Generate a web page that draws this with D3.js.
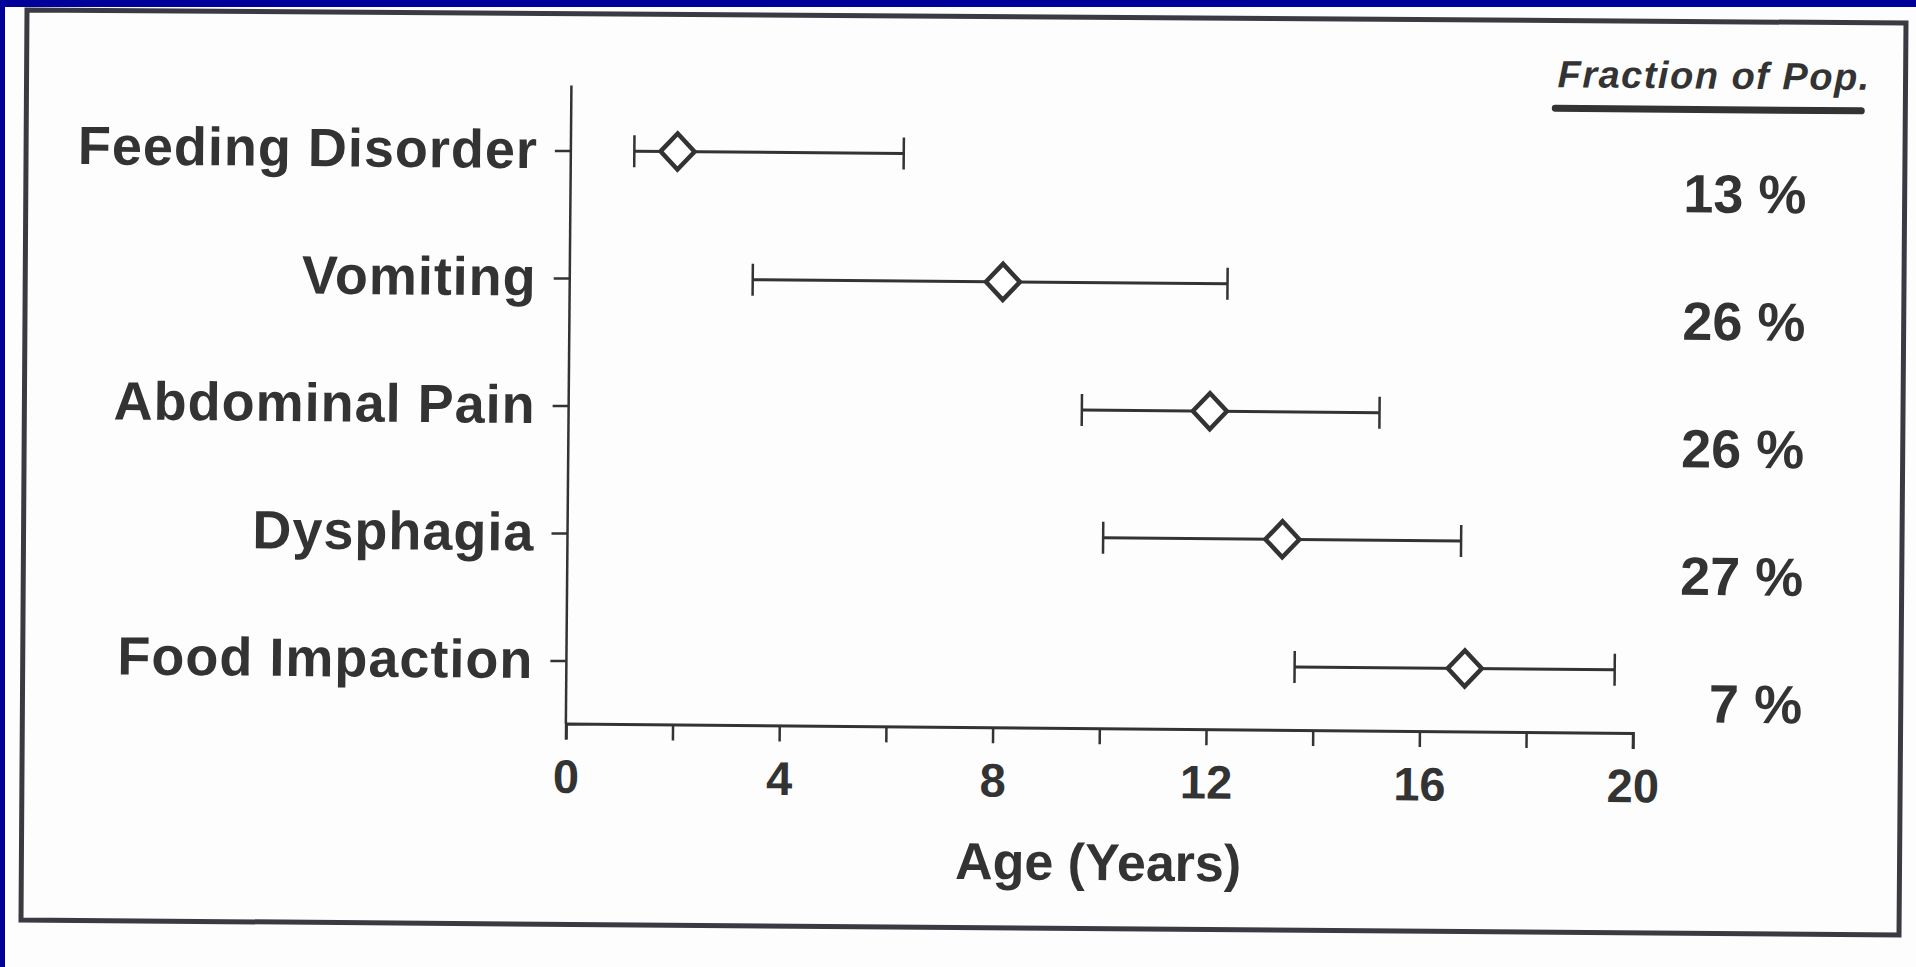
<!DOCTYPE html>
<html>
<head>
<meta charset="utf-8">
<script src="https://cdn.jsdelivr.net/npm/d3@7"></script>
<style>
  html, body { margin: 0; padding: 0; background: #00009a; }
  svg { display: block; }
  text { font-family: "Liberation Sans", Arial, sans-serif; fill: #333; }
</style>
</head>
<body>
<div id="chart"></div>
<script>
// symptom categories, top to bottom
const categories = ["Feeding Disorder", "Vomiting", "Abdominal Pain", "Dysphagia", "Food Impaction"];
// age ranges (years): lower whisker, point, upper whisker
const lows  = [1.19, 3.43, 9.62, 10.04, 13.65];
const mids  = [2.0, 8.12, 12.02, 13.4, 16.84];
const highs = [6.24, 12.33, 15.2, 16.75, 19.65];
// fraction of population, %
const fractions = [13, 26, 26, 27, 7];
const xTicks = [0, 2, 4, 6, 8, 10, 12, 14, 16, 18, 20];
const xLabelTicks = [0, 4, 8, 12, 16, 20];

const width = 1916, height = 967;
const ink = "#333";

const svg = d3.select("#chart").append("svg")
  .attr("width", width)
  .attr("height", height);

// white page with blue edge showing top / left
svg.append("rect")
  .attr("x", 5).attr("y", 7)
  .attr("width", width - 5).attr("height", height - 7)
  .attr("fill", "#fdfdfd");

// scanned frame, slightly skewed
svg.append("path")
  .attr("d", "M27,10 L1906,23 L1899,935 L21,920 Z")
  .attr("fill", "none")
  .attr("stroke", "#3a3a42")
  .attr("stroke-width", 5);

// whole plot is rotated a touch like the scan
const g = svg.append("g")
  .attr("transform", "rotate(0.5, 958, 480)");

const x = d3.scaleLinear().domain([0, 20]).range([568, 1635]);
const y = d3.scalePoint().domain(categories).range([154, 664]);
const axisY = 727;

// x axis
const xAxis = d3.axisBottom(x)
  .tickValues(xTicks)
  .tickSize(16)
  .tickPadding(20)
  .tickFormat(d => xLabelTicks.includes(d) ? d : "");

const gx = g.append("g")
  .attr("transform", "translate(0," + axisY + ")")
  .call(xAxis);
gx.select(".domain").attr("stroke", ink).attr("stroke-width", 3);
gx.selectAll(".tick line").attr("stroke", ink).attr("stroke-width", 2.5);
gx.selectAll(".tick text")
  .style("font-size", "47px")
  .style("font-weight", "bold")
  .attr("fill", ink);

// y axis (line drawn separately so it runs up past the first category)
g.append("line")
  .attr("x1", x(0)).attr("x2", x(0))
  .attr("y1", y(categories[0]) - 65)
  .attr("y2", axisY)
  .attr("stroke", ink)
  .attr("stroke-width", 2.5);

const yAxis = d3.axisLeft(y).tickSize(16).tickPadding(17);
const gy = g.append("g")
  .attr("transform", "translate(" + x(0) + ",0)")
  .call(yAxis);
gy.select(".domain").remove();
gy.selectAll(".tick line").attr("stroke", ink).attr("stroke-width", 2.5);
gy.selectAll(".tick text")
  .style("font-size", "54px")
  .style("font-weight", "bold")
  .style("letter-spacing", "1px")
  .attr("fill", ink);

// error bars
const rows = categories.map((c, i) => ({ cat: c, lo: lows[i], mid: mids[i], hi: highs[i], pct: fractions[i] }));
const capH = 16;

const bars = g.selectAll(".bar")
  .data(rows)
  .enter()
  .append("g")
  .attr("class", "bar");

bars.append("line")
  .attr("x1", d => x(d.lo)).attr("x2", d => x(d.hi))
  .attr("y1", d => y(d.cat)).attr("y2", d => y(d.cat))
  .attr("stroke", ink).attr("stroke-width", 3);

bars.append("line")
  .attr("x1", d => x(d.lo)).attr("x2", d => x(d.lo))
  .attr("y1", d => y(d.cat) - capH).attr("y2", d => y(d.cat) + capH)
  .attr("stroke", ink).attr("stroke-width", 2.5);

bars.append("line")
  .attr("x1", d => x(d.hi)).attr("x2", d => x(d.hi))
  .attr("y1", d => y(d.cat) - capH).attr("y2", d => y(d.cat) + capH)
  .attr("stroke", ink).attr("stroke-width", 2.5);

// open diamonds at the point value
const dw = 17, dh = 18;
bars.append("path")
  .attr("d", "M0," + (-dh) + "L" + dw + ",0L0," + dh + "L" + (-dw) + ",0Z")
  .attr("transform", d => "translate(" + x(d.mid) + "," + y(d.cat) + ")")
  .attr("fill", "#fff")
  .attr("stroke", ink)
  .attr("stroke-width", 4.5)
  .attr("stroke-linejoin", "miter");

// axis title
g.append("text")
  .attr("x", x(10))
  .attr("y", 879)
  .attr("text-anchor", "middle")
  .style("font-size", "52px")
  .style("font-weight", "bold")
  .text("Age (Years)");

// fraction column
g.append("text")
  .attr("x", 1554)
  .attr("y", 82)
  .style("font-size", "38px")
  .style("font-weight", "bold")
  .style("font-style", "italic")
  .style("letter-spacing", "1.5px")
  .text("Fraction of Pop.");

g.append("line")
  .attr("x1", 1552).attr("x2", 1858)
  .attr("y1", 103).attr("y2", 103)
  .attr("stroke", ink)
  .attr("stroke-width", 7)
  .attr("stroke-linecap", "round");

g.selectAll(".pct")
  .data(rows)
  .enter()
  .append("text")
  .attr("class", "pct")
  .attr("x", 1804)
  .attr("y", d => y(d.cat) + 33 + 19)
  .attr("text-anchor", "end")
  .style("font-size", "54px")
  .style("font-weight", "bold")
  .text(d => d.pct + " %");
</script>
</body>
</html>
